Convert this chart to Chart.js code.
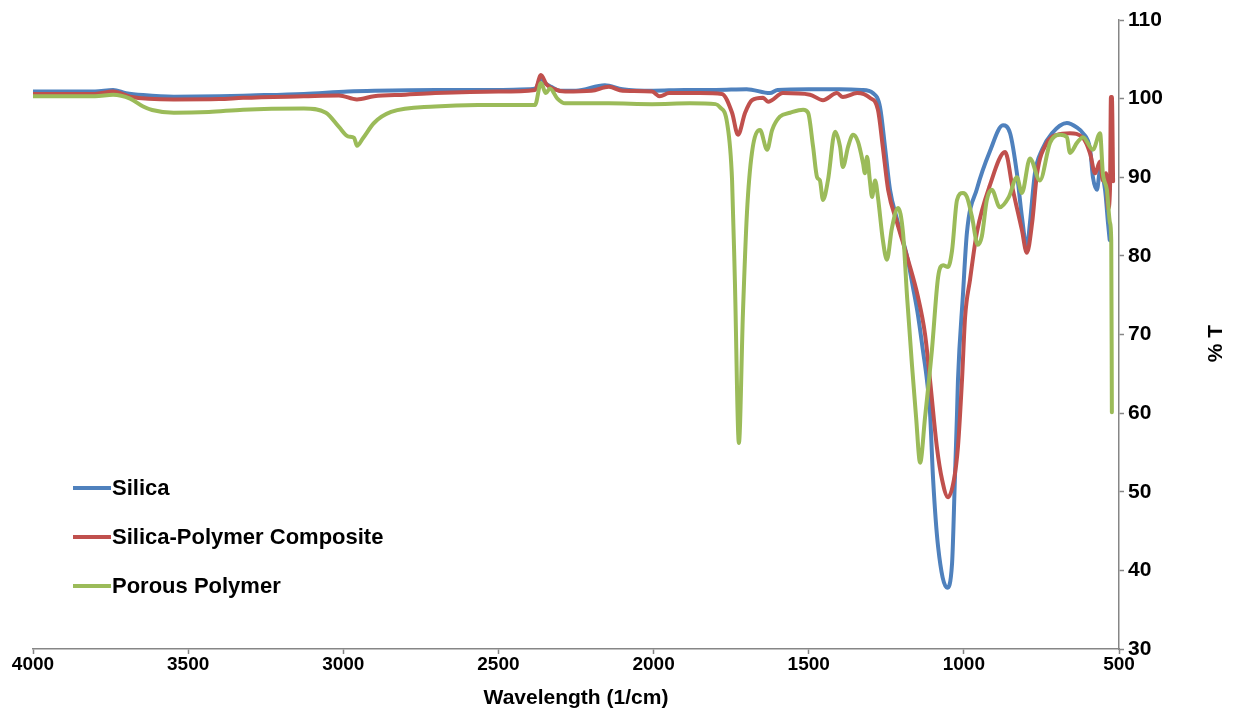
<!DOCTYPE html>
<html>
<head>
<meta charset="utf-8">
<script src="https://cdn.jsdelivr.net/npm/chart.js@4/dist/chart.umd.min.js"></script>
<style>
html,body{margin:0;padding:0;background:#fff;}
#wrap{width:1233px;height:718px;position:relative;}
</style>
</head>
<body>
<div id="wrap"><canvas id="c"></canvas></div>
<script>
// ---- data (wavenumber, %T) ----
const seriesNames = ['Silica', 'Silica-Polymer Composite', 'Porous Polymer'];

const silicaX = [4000,3900,3800,3742,3700,3645,3546,3400,3300,3127,2985,2900,2700,2500,2400,2380,2363,2350,2330,2300,2250,2157,2100,2000,1900,1800,1700,1625,1600,1500,1400,1330,1293,1270,1254,1238,1215,1183,1164,1148,1132,1119,1109,1099,1083,1054,1038,1029,1022,1019,1003,990,958,916,874,851,829,813,797,787,771,748,716,668,635,616,593,584,571,561,545,535,530];
const silicaY = [100.9,100.9,100.9,101.1,100.7,100.45,100.25,100.3,100.4,100.6,100.9,101.0,101.1,101.1,101.2,101.3,102.6,102.0,101.5,101.0,101.0,101.7,101.2,101.0,101.1,101.1,101.2,100.7,101.1,101.2,101.2,101.1,100.7,98.9,93.8,88.4,84.6,79.9,76.0,72.5,68.0,64.2,60.0,51.5,43.0,37.8,40.9,51.5,60.0,64.2,75.0,83.0,88.5,93.3,96.6,95.6,90.5,85.0,81.1,84.2,90.5,93.5,95.6,96.9,96.3,95.6,93.5,90.0,88.4,90.9,88.4,84.0,82.0];

const compositeX = [4000,3900,3800,3742,3687,3546,3400,3323,3127,3014,2956,2901,2800,2704,2500,2382,2363,2345,2320,2285,2200,2144,2100,2005,1980,1950,1850,1780,1747,1728,1705,1683,1647,1631,1583,1496,1454,1409,1390,1344,1303,1277,1261,1244,1215,1180,1148,1125,1109,1087,1070,1051,1032,1019,1006,996,980,958,916,867,842,813,797,780,764,732,700,658,616,593,577,561,552,542,535,529,526,523,519];
const compositeY = [100.6,100.6,100.6,100.9,100.25,99.9,99.95,100.1,100.3,100.4,99.9,100.3,100.5,100.7,100.9,101.1,103.0,101.8,101.2,100.9,101.0,101.5,101.0,100.9,100.3,100.7,100.7,100.6,98.2,95.4,98.2,99.8,100.1,99.6,100.7,100.5,99.8,100.7,100.2,100.7,100.1,98.6,93.8,88.4,84.2,79.5,74.8,70.0,64.2,55.7,51.5,49.3,51.5,55.7,64.2,72.2,77.0,83.0,89.0,93.2,88.4,83.3,80.4,84.2,90.5,94.4,95.4,95.6,95.0,93.0,90.5,92.0,89.6,90.5,86.0,88.5,100.2,100.2,89.5];

const porousX = [4000,3900,3800,3742,3687,3645,3616,3546,3433,3323,3127,3056,3014,2985,2965,2956,2936,2901,2846,2704,2566,2382,2363,2347,2334,2310,2285,2144,2005,1883,1800,1786,1763,1747,1738,1725,1712,1699,1683,1657,1634,1618,1593,1560,1518,1502,1486,1473,1464,1454,1438,1415,1399,1390,1373,1357,1341,1325,1319,1312,1303,1296,1286,1277,1261,1248,1232,1212,1196,1183,1167,1154,1141,1125,1103,1083,1067,1051,1038,1022,1003,990,974,955,942,926,910,884,855,829,813,787,755,722,690,668,658,635,616,584,561,552,539,529,525,523];
const porousY = [100.3,100.3,100.3,100.5,100.0,99.0,98.55,98.2,98.3,98.6,98.75,98.2,96.4,95.2,95.0,94.0,95.0,96.9,98.3,99.0,99.2,99.2,102.0,100.7,101.3,100.0,99.4,99.4,99.3,99.4,99.3,98.9,96.9,89.6,76.9,56.2,72.7,85.5,93.1,96.0,93.5,96.0,97.7,98.2,98.6,98.2,93.9,90.0,89.6,87.1,89.6,95.8,93.9,91.3,93.9,95.4,94.5,91.8,90.5,92.6,89.6,87.5,89.6,87.5,82.0,79.5,83.5,86.1,82.9,74.8,66.0,59.5,53.7,59.5,68.0,77.3,78.8,78.6,80.7,87.1,88.0,87.5,85.0,81.4,82.5,87.1,88.4,86.2,87.5,90.0,88.0,92.4,89.6,94.4,95.4,95.1,93.1,94.4,95.1,93.5,95.6,90.5,88.4,84.2,82.0,60.1];

const xTicks = [4000,3500,3000,2500,2000,1500,1000,500];
const yTicks = [30,40,50,60,70,80,90,100,110];

const colors = ['#4F81BD', '#C0504D', '#9BBB59'];
const axisColor = '#868686';
const FONT = '"Liberation Sans", Arial, sans-serif';

const pts = (xs, ys) => xs.map((x, i) => ({x: x, y: ys[i]}));

const legendPlugin = {
  id: 'insideLegend',
  afterDraw(chart) {
    const ctx = chart.ctx;
    ctx.save();
    ctx.font = 'bold 22px ' + FONT;
    ctx.textBaseline = 'middle';
    ctx.textAlign = 'left';
    chart.data.datasets.forEach((ds, i) => {
      const y = 488 + i * 49;
      ctx.strokeStyle = ds.borderColor;
      ctx.lineWidth = 4;
      ctx.beginPath();
      ctx.moveTo(73, y);
      ctx.lineTo(111, y);
      ctx.stroke();
      ctx.fillStyle = '#000';
      ctx.fillText(ds.label, 112, y + 1);
    });
    ctx.restore();
  }
};

const yTitlePlugin = {
  id: 'yTitle',
  afterDraw(chart) {
    const ctx = chart.ctx;
    const a = chart.chartArea;
    ctx.save();
    ctx.translate(1216, (a.top + a.bottom) / 2 + 9);
    ctx.rotate(-Math.PI / 2);
    ctx.font = 'bold 21px ' + FONT;
    ctx.fillStyle = '#000';
    ctx.textAlign = 'center';
    ctx.textBaseline = 'middle';
    ctx.fillText('% T', 0, 0);
    ctx.restore();
  }
};

new Chart(document.getElementById('c'), {
  type: 'line',
  data: {
    datasets: [
      {label: seriesNames[0], data: pts(silicaX, silicaY), borderColor: colors[0], order: 2},
      {label: seriesNames[1], data: pts(compositeX, compositeY), borderColor: colors[1], order: 1},
      {label: seriesNames[2], data: pts(porousX, porousY), borderColor: colors[2], order: 0}
    ]
  },
  options: {
    responsive: true,
    maintainAspectRatio: false,
    animation: false,
    devicePixelRatio: 1,
    layout: {padding: {left: 33, top: 20, right: 0, bottom: 0}},
    elements: {
      line: {borderWidth: 4, cubicInterpolationMode: 'monotone', fill: false, borderCapStyle: 'round', borderJoinStyle: 'round'},
      point: {radius: 0, hoverRadius: 0}
    },
    plugins: {legend: {display: false}, tooltip: {enabled: false}},
    scales: {
      x: {
        type: 'linear',
        position: 'bottom',
        reverse: true,
        min: 500,
        max: 4000,
        afterBuildTicks: s => { s.ticks = xTicks.map(v => ({value: v})); },
        afterFit: s => { s.height = 69; },
        grid: {drawOnChartArea: false, drawTicks: true, tickLength: 5, tickColor: axisColor, tickWidth: 1.5},
        border: {display: true, color: axisColor, width: 1.5},
        ticks: {color: '#000', font: {family: FONT, size: 19, weight: 'bold'}, padding: -1, maxRotation: 0, autoSkip: false,
                callback: v => String(v)},
        title: {display: true, text: 'Wavelength (1/cm)', color: '#000', font: {family: FONT, size: 21, weight: 'bold'}, padding: {top: 2, bottom: 7}}
      },
      y: {
        type: 'linear',
        position: 'right',
        min: 30,
        max: 110,
        afterBuildTicks: s => { s.ticks = yTicks.map(v => ({value: v})); },
        afterFit: s => { s.width = 114; },
        grid: {drawOnChartArea: false, drawTicks: true, tickLength: 5, tickColor: axisColor, tickWidth: 1.5},
        border: {display: true, color: axisColor, width: 1.5},
        ticks: {color: '#000', font: {family: FONT, size: 21, weight: 'bold'}, padding: 4, autoSkip: false,
                callback: v => String(v)}
      }
    }
  },
  plugins: [legendPlugin, yTitlePlugin]
});
</script>
</body>
</html>
